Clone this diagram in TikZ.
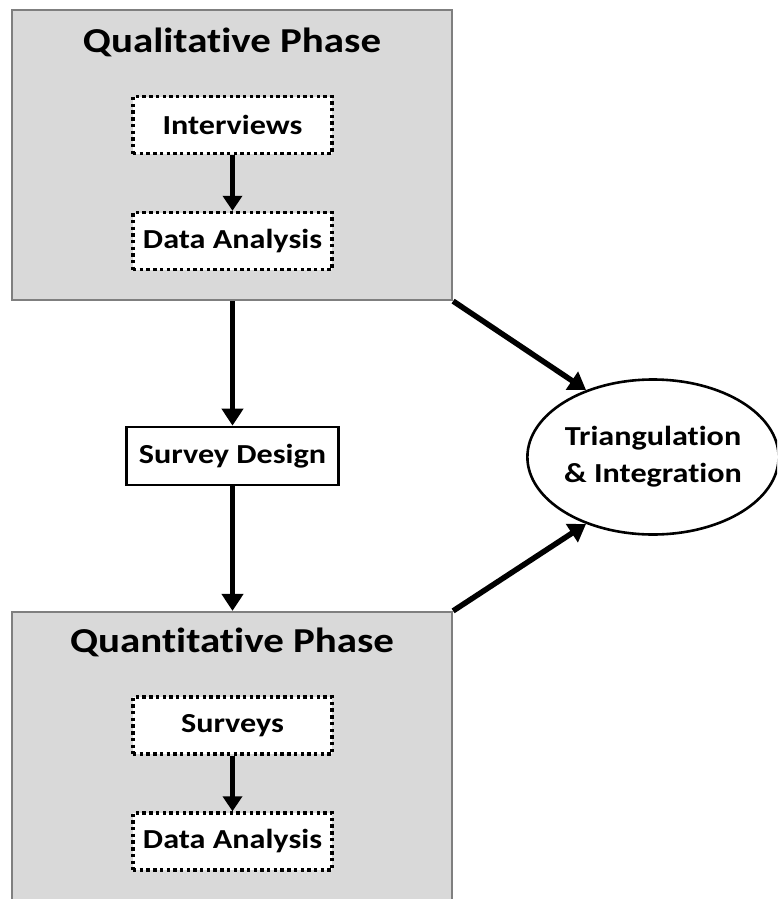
\documentclass[tikz,border=0pt]{standalone}
\usepackage{fontspec}
\newfontfamily\diagfont[FakeStretch=1.17, Ligatures=NoCommon]{Carlito}
\usetikzlibrary{arrows.meta,shapes.geometric}
\definecolor{phasegray}{HTML}{D9D9D9}
\definecolor{phaseedge}{HTML}{7F7F7F}
\tikzset{
  phase/.style={draw=phaseedge, line width=2.2pt, fill=phasegray},
  phasetitle/.style={font=\diagfont\fontsize{35}{40}\selectfont\bfseries, inner sep=0pt},
  substep/.style={draw=black, fill=white, line width=3.4pt, dash pattern=on 3.4pt off 3.3pt,
    minimum width=199pt, minimum height=57pt, font=\diagfont\fontsize{27.5}{30}\selectfont\bfseries, inner sep=0pt},
  designbox/.style={draw=black, fill=white, line width=2.7pt, minimum width=212pt,
    minimum height=58pt, font=\diagfont\fontsize{27.5}{30}\selectfont\bfseries, inner sep=0pt},
  goal/.style={ellipse, draw=black, fill=white, line width=2.6pt, minimum width=246pt,
    minimum height=155pt, font=\diagfont\fontsize{27.5}{37}\selectfont\bfseries, align=center, inner sep=0pt},
  flow/.style={line width=5.5pt, -{Triangle[length=17pt,width=21pt]}},
  innerflow/.style={line width=5pt, -{Triangle[length=15pt,width=19pt]}},
}
\begin{document}
\begin{tikzpicture}[x=1pt,y=-1pt]
\useasboundingbox (0,0) rectangle (777,899);
\clip (0,0) rectangle (777,899);

% qualitative phase container
\node[phase, minimum width=440pt, minimum height=290pt, inner sep=0pt] (qual) at (232,155) {};
\node[phasetitle] (qualtitle) at (232,42) {Qualitative Phase};
\node[substep] (interviews) at (232.5,125) {Interviews};
\node[substep] (qualdata) at (232.5,241) {Data Analysis};
\draw[innerflow] (interviews.south) -- (qualdata.north);

% survey design step
\node[designbox] (design) at (232.5,456) {Survey Design};

% quantitative phase container (runs off the bottom edge)
\node[phase, minimum width=440pt, minimum height=300pt, inner sep=0pt] (quant) at (232,762) {};
\node[phasetitle] (quanttitle) at (232,642) {Quantitative Phase};
\node[substep] (surveys) at (232.5,725.5) {Surveys};
\node[substep] (quantdata) at (232.5,841.5) {Data Analysis};
\draw[innerflow] (surveys.south) -- (quantdata.north);

% integration target
\node[goal] (tri) at (653,457) {Triangulation\\\& Integration};

% connectors
\draw[flow] (qual.south -| design.north) -- (design.north);
\draw[flow] (design.south) -- (design.south |- quant.north);
\draw[flow] (qual.south east) -- (tri.135);
\draw[flow] (quant.north east) -- (tri.225);
\end{tikzpicture}
\end{document}
